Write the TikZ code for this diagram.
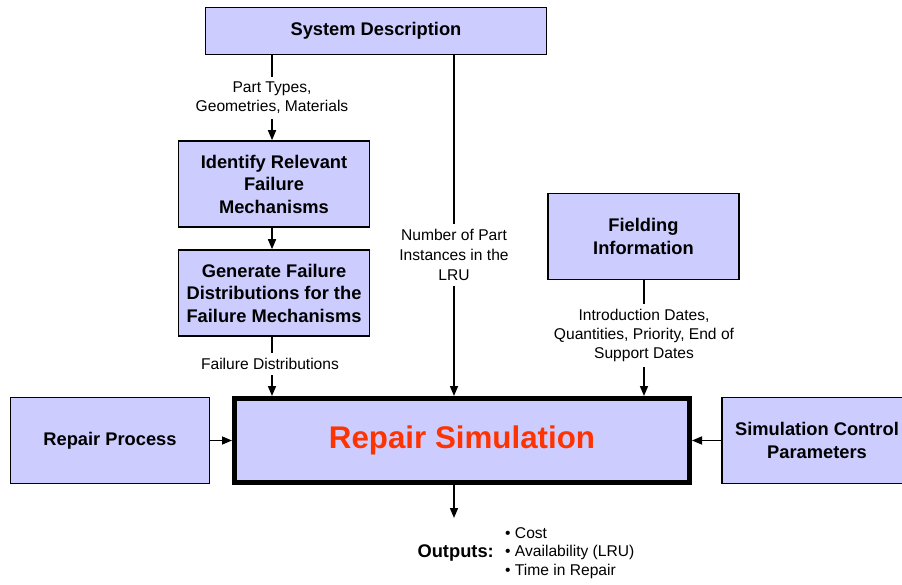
\documentclass[tikz,border=0pt]{standalone}
\usepackage{fontspec}
\setmainfont{Liberation Sans}
\usetikzlibrary{arrows.meta,positioning}

\definecolor{boxfill}{RGB}{204,204,255}
\definecolor{simred}{RGB}{255,51,0}

\begin{document}
\begin{tikzpicture}[x=1pt,y=-1pt,
    block/.style={draw=black,line width=1.6pt,fill=boxfill,align=center,inner sep=0pt,
        minimum width=191pt,minimum height=86pt,
        font=\fontsize{18.3}{22.5}\selectfont\bfseries},
    flowlabel/.style={align=center,inner sep=5pt,font=\fontsize{15.6}{19}\selectfont},
    flow/.style={line width=1.6pt},
    feed/.style={line width=1.6pt,-{Triangle[length=10pt,width=8pt]}}]
  \useasboundingbox (0,0) rectangle (902,584);

  % boxes
  \node[block,minimum width=341pt,minimum height=47pt] (sysdesc) at (376,31) {System Description};
  \node[block] (identify) at (274,184) {Identify Relevant\\Failure\\Mechanisms};
  \node[block] (generate) at (274,293) {Generate Failure\\Distributions for the\\Failure Mechanisms};
  \node[block] (fielding) at (643.5,236.5) {Fielding\\Information};
  \node[block,minimum width=199pt] (repproc) at (110,440.5) {Repair Process};
  \node[block,minimum width=190pt] (simctrl) at (817,440.5) {Simulation Control\\Parameters};
  \node[block,line width=5pt,minimum width=455pt,minimum height=84pt,
        font=\fontsize{31.3}{36}\selectfont\bfseries\color{simred}] (repsim) at (462,440.5) {Repair Simulation};

  % data passed along the connectors
  \node[flowlabel] (typeslbl) at (272,98) {Part Types,\\Geometries, Materials};
  \node[flowlabel] (distlbl) at (270,364) {Failure Distributions};
  \node[flowlabel,font=\fontsize{15.6}{20}\selectfont] (countlbl) at (454,255) {Number of Part\\Instances in the\\LRU};
  \node[flowlabel] (datelbl) at (644,335.5) {Introduction Dates,\\Quantities, Priority, End of\\Support Dates};

  \draw[flow] (sysdesc.south -| typeslbl) -- (typeslbl.north);
  \draw[feed] (typeslbl.south) -- (identify.north -| typeslbl);
  \draw[feed] (identify.south -| typeslbl) -- (generate.north -| typeslbl);
  \draw[flow] (generate.south -| typeslbl) -- (distlbl.north -| typeslbl);
  \draw[feed] (distlbl.south -| typeslbl) -- (repsim.north -| typeslbl);
  \draw[flow] (sysdesc.south -| countlbl) -- (countlbl.north);
  \draw[feed] (countlbl.south) -- (repsim.north -| countlbl);
  \draw[flow] (fielding.south -| datelbl) -- (datelbl.north);
  \draw[feed] (datelbl.south) -- (repsim.north -| datelbl);
  \draw[feed] (repproc) -- (repsim);
  \draw[feed] (simctrl) -- (repsim);

  % outputs
  \coordinate (outend) at (454,518);
  \draw[feed] (repsim.south -| outend) -- (outend);
  \node[anchor=west,align=left,inner sep=0pt,font=\fontsize{15.6}{18.5}\selectfont] (outlist) at (505,553)
    {• Cost\\• Availability (LRU)\\• Time in Repair};
  \node[left=11pt of outlist,inner sep=0pt,font=\fontsize{18.3}{22}\selectfont\bfseries] (outlbl) {Outputs:};
\end{tikzpicture}
\end{document}
